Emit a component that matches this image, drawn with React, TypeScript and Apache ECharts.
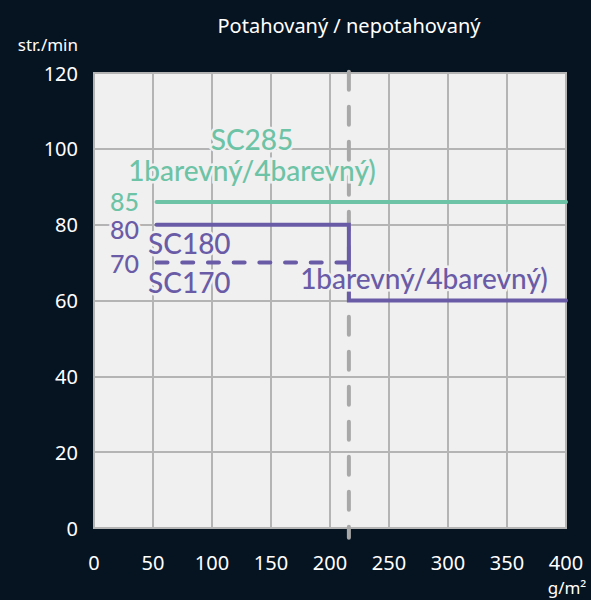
import React, { useEffect, useRef } from "react";
import * as echarts from "echarts";

const xTicks = [0, 50, 100, 150, 200, 250, 300, 350, 400];
const yTicks = [0, 20, 40, 60, 80, 100, 120];
const sc285 = [
  [53, 86],
  [400, 86],
];
const sc180 = [
  [53, 80],
  [216, 80],
  [216, 60],
  [400, 60],
];
const sc170 = [
  [53, 70],
  [216, 70],
];
const divider = [
  [216, -2.6],
  [216, 123.4],
];

const GREEN = "#6cc3a5";
const PURPLE = "#6a5ba7";
const BG = "#061422";
const PLOT = "#f0f0f0";
const GRID = "#b4b4b4";

export default function App() {
  const ref = useRef<HTMLDivElement>(null);
  useEffect(() => {
    if (!ref.current) return;
    const chart = echarts.init(ref.current, null, { renderer: "svg" });
    const ann = (text: string, x: number, y: number, color: string, align = "left", size = 28) => ({
      type: "text",
      x,
      y,
      z: 100,
      style: {
        text,
        fill: color,
        font: `500 ${size}px Lato`,
        lineHeight: 22,
        textAlign: align,
        textVerticalAlign: "middle",
        stroke: PLOT,
        lineWidth: 5,
      },
    });
    const plain = (text: string, x: number, y: number, size: number, align = "center") => ({
      type: "text",
      x,
      y,
      z: 100,
      style: {
        text,
        fill: "#ffffff",
        font: `${size}px "Noto Sans"`,
        textAlign: align,
        textVerticalAlign: "middle",
      },
    });
    chart.setOption({
      animation: false,
      backgroundColor: BG,
      grid: {
        left: 94,
        right: 25,
        top: 73,
        bottom: 72,
        show: true,
        backgroundColor: PLOT,
        borderColor: GRID,
        borderWidth: 2,
      },
      xAxis: {
        type: "value",
        min: xTicks[0],
        max: xTicks[xTicks.length - 1],
        interval: 50,
        axisLine: { show: false },
        axisTick: { show: false },
        splitLine: { show: true, lineStyle: { color: GRID, width: 2 } },
        axisLabel: { color: "#ffffff", fontSize: 20, fontFamily: "Noto Sans", margin: 24 },
      },
      yAxis: {
        type: "value",
        min: yTicks[0],
        max: yTicks[yTicks.length - 1],
        interval: 20,
        axisLine: { show: false },
        axisTick: { show: false },
        splitLine: { show: true, lineStyle: { color: GRID, width: 2 } },
        axisLabel: {
          color: "#ffffff",
          fontSize: 20,
          fontFamily: "Noto Sans",
          margin: 16,
          padding: [14, 0, 0, 0],
        },
      },
      series: [
        {
          type: "line",
          data: divider,
          symbol: "none",
          clip: false,
          silent: true,
          z: 1,
          lineStyle: { color: "#a8a8a8", width: 4, type: [18, 17], dashOffset: 7, cap: "round" },
        },
        {
          type: "line",
          data: sc285,
          symbol: "none",
          lineStyle: { color: GREEN, width: 4, cap: "round" },
        },
        {
          type: "line",
          data: sc180,
          symbol: "none",
          lineStyle: { color: PURPLE, width: 4, cap: "round", join: "miter" },
        },
        {
          type: "line",
          data: sc170,
          symbol: "none",
          lineStyle: { color: PURPLE, width: 4, type: [11, 14.7], cap: "round" },
        },
      ],
      graphic: [
        plain("Potahovaný / nepotahovaný", 349, 25, 20),
        plain("str./min", 78, 44, 17, "right"),
        plain("g/m²", 567, 587, 17),
        ann("SC285", 252, 139, GREEN, "center"),
        ann("1barevný/4barevný)", 252, 170, GREEN, "center"),
        ann("85", 110, 200.5, GREEN, "left", 25),
        ann("80", 110, 229, PURPLE, "left", 25),
        ann("SC180", 148, 243, PURPLE),
        ann("70", 110, 262.5, PURPLE, "left", 25),
        ann("SC170", 148, 282, PURPLE),
        ann("1barevný/4barevný)", 424, 278, PURPLE, "center"),
      ],
    });
    return () => chart.dispose();
  }, []);
  return <div ref={ref} style={{ width: 591, height: 600, position: "absolute", left: 0, top: 0 }} />;
}
